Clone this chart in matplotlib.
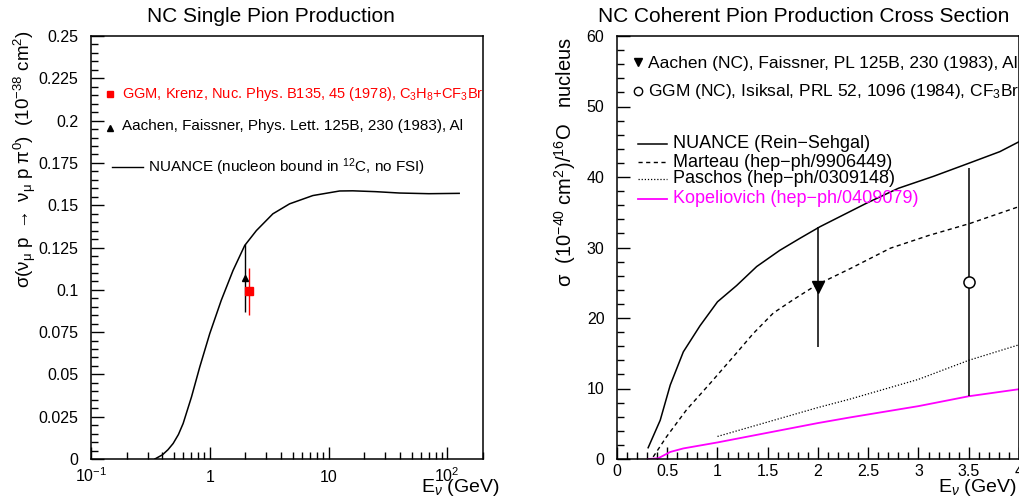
import numpy as np
import matplotlib.pyplot as plt
from matplotlib.ticker import MultipleLocator, LogLocator, NullFormatter

plt.rcParams['font.family'] = ['Liberation Sans', 'DejaVu Sans']
plt.rcParams['mathtext.fontset'] = 'custom'
plt.rcParams['mathtext.rm'] = 'Liberation Sans'
plt.rcParams['mathtext.it'] = 'Liberation Sans:italic'
plt.rcParams['mathtext.bf'] = 'Liberation Sans:bold'

# ---- left panel: NC single pion production ----
single_e = [0.345, 0.40, 0.445, 0.492, 0.545, 0.597, 0.702, 0.824, 1.0, 1.25, 1.57,
            1.97, 2.47, 3.40, 4.70, 7.38, 12.4, 16, 25, 39.5, 70, 126]
single_sigma = [0.0, 0.0025, 0.0055, 0.0092, 0.0145, 0.021, 0.0367, 0.0544, 0.0741,
                0.0938, 0.1114, 0.1262, 0.135, 0.1449, 0.1508, 0.1557, 0.1584,
                0.1585, 0.158, 0.1572, 0.1568, 0.157]

aachen_single_e = [1.97]
aachen_single_sigma = [0.107]
aachen_single_err = [0.02]

ggm_single_e = [2.14]
ggm_single_sigma = [0.099]
ggm_single_err = [0.014]

left_yticks = [0, 0.025, 0.05, 0.075, 0.1, 0.125, 0.15, 0.175, 0.2, 0.225, 0.25]
left_yticklabels = ['0', '0.025', '0.05', '0.075', '0.1', '0.125', '0.15', '0.175',
                    '0.2', '0.225', '0.25']
left_xticks = [0.1, 1, 10, 100]
left_xticklabels = ['$10^{-1}$', '1', '10', '$10^{2}$']

# ---- right panel: NC coherent pion production ----
nuance_e = [0.31, 0.43, 0.53, 0.66, 0.826, 1.0, 1.19, 1.39, 1.62, 1.82, 2.02, 2.485,
            2.8, 3.15, 3.51, 3.81, 4.0]
nuance_sigma = [1.6, 5.5, 10.5, 15.2, 18.9, 22.3, 24.6, 27.3, 29.6, 31.3, 32.95, 36.3,
                38.4, 40.1, 42.0, 43.6, 45.0]

marteau_e = [0.36, 0.495, 0.693, 0.925, 1.157, 1.356, 1.555, 1.754, 1.987, 2.32,
             2.72, 3.1, 3.51, 4.0]
marteau_sigma = [0.3, 3.2, 7.0, 10.7, 14.5, 17.8, 20.7, 22.6, 24.7, 27.0, 29.9,
                 31.7, 33.4, 35.8]

paschos_e = [1.0, 2.0, 2.32, 3.0, 3.5, 4.0]
paschos_sigma = [3.2, 7.3, 8.5, 11.3, 14.0, 16.2]

kopel_e = [0.31, 0.41, 0.53, 0.66, 1.0, 2.0, 2.32, 3.0, 3.5, 4.0]
kopel_sigma = [0.0, 0.1, 1.0, 1.5, 2.35, 5.1, 5.9, 7.5, 8.9, 9.9]

aachen_coh_e = [2.0]
aachen_coh_sigma = [24.4]
aachen_coh_err = [8.45]

ggm_coh_e = [3.5]
ggm_coh_sigma = [25.1]
ggm_coh_err = [16.2]

right_xticks = [0, 0.5, 1, 1.5, 2, 2.5, 3, 3.5, 4]
right_xticklabels = ['0', '0.5', '1', '1.5', '2', '2.5', '3', '3.5', '4']
right_yticks = [0, 10, 20, 30, 40, 50, 60]

W, H = 1020, 497
fig = plt.figure(figsize=(W / 100, H / 100), dpi=100)
ax1 = fig.add_axes([91 / W, 38 / H, 392 / W, 423 / H])
ax2 = fig.add_axes([617 / W, 38 / H, 402 / W, 423 / H])

for ax in (ax1, ax2):
    ax.tick_params(which='both', direction='in', top=False, right=False, width=1.0,
                   labelsize=11.5)
    ax.tick_params(which='major', length=9)
    ax.tick_params(which='minor', length=5)
    ax.tick_params(axis='y', pad=9)
    for s in ax.spines.values():
        s.set_linewidth(1.1)

# left panel
ax1.plot(single_e, single_sigma, color='black', lw=1.1)
ax1.errorbar(aachen_single_e, aachen_single_sigma, yerr=aachen_single_err, fmt='^',
             color='black', ms=5, elinewidth=1.0, capsize=0)
ax1.errorbar(ggm_single_e, ggm_single_sigma, yerr=ggm_single_err, fmt='s',
             color='red', ms=5.5, elinewidth=1.0, capsize=0)
ax1.set_xscale('log')
ax1.set_xlim(0.1, 200)
ax1.set_ylim(0, 0.25)
ax1.set_xticks(left_xticks)
ax1.set_xticklabels(left_xticklabels)
ax1.xaxis.set_minor_locator(LogLocator(base=10, subs=np.arange(2, 10)))
ax1.xaxis.set_minor_formatter(NullFormatter())
ax1.tick_params(axis='x', pad=16.5)
for lbl in ax1.get_xticklabels():
    lbl.set_verticalalignment('baseline')
ax1.set_yticks(left_yticks)
ax1.set_yticklabels(left_yticklabels)
ax1.yaxis.set_minor_locator(MultipleLocator(0.005))

ax1.text(0.458, 1.045, 'NC Single Pion Production', transform=ax1.transAxes,
         ha='center', va='center', fontsize=15)

# left legend
ax1.plot([0.048], [0.863], 's', color='red', ms=5, transform=ax1.transAxes)
ax1.text(0.079, 0.863, 'GGM, Krenz, Nuc. Phys. B135, 45 (1978), C$_3$H$_8$+CF$_3$Br',
         transform=ax1.transAxes, color='red', fontsize=10.5, va='center', clip_on=True)
ax1.plot([0.048], [0.782], '^', color='black', ms=4, transform=ax1.transAxes)
ax1.text(0.079, 0.787, 'Aachen, Faissner, Phys. Lett. 125B, 230 (1983), Al',
         transform=ax1.transAxes, color='black', fontsize=11, va='center')
ax1.plot([0.054, 0.133], [0.690, 0.690], color='black', lw=1.0, transform=ax1.transAxes)
ax1.text(0.145, 0.690, 'NUANCE (nucleon bound in $^{12}$C, no FSI)',
         transform=ax1.transAxes, color='black', fontsize=11, va='center')

fig.text(25 / W, 1 - 30 / H,
         r'$\mathrm{\sigma(\nu_{\mu}\ p\ \rightarrow\ \nu_{\mu}\ p\ \pi^{0})\ \ (10^{-38}\ cm^{2})}$',
         rotation=90, ha='center', va='top', fontsize=13.5)
fig.text(500 / W, 1 - 487 / H, r'E$_{\nu}$ (GeV)', ha='right', va='center', fontsize=14)

# right panel
ax2.plot(nuance_e, nuance_sigma, color='black', lw=1.1)
ax2.plot(marteau_e, marteau_sigma, color='black', lw=1.0, ls=(0, (3, 2.5)))
ax2.plot(paschos_e, paschos_sigma, color='black', lw=0.9, ls=(0, (1, 1.5)))
ax2.plot(kopel_e, kopel_sigma, color='magenta', lw=1.3)
ax2.errorbar(aachen_coh_e, aachen_coh_sigma, yerr=aachen_coh_err, fmt='v',
             color='black', ms=8, elinewidth=1.1, capsize=0)
ax2.errorbar(ggm_coh_e, ggm_coh_sigma, yerr=ggm_coh_err, fmt='o', mfc='white',
             mec='black', ecolor='black', ms=8, mew=1.1, elinewidth=1.1, capsize=0)
ax2.set_xlim(0, 4)
ax2.set_ylim(0, 60)
ax2.set_xticks(right_xticks)
ax2.set_xticklabels(right_xticklabels)
ax2.xaxis.set_minor_locator(MultipleLocator(0.1))
ax2.tick_params(axis='x', pad=3.6)
ax2.set_yticks(right_yticks)
ax2.yaxis.set_minor_locator(MultipleLocator(2))

ax2.text(-0.047, 1.045, 'NC Coherent Pion Production Cross Section',
         transform=ax2.transAxes, ha='left', va='center', fontsize=15, clip_on=False)

# right legend
ax2.plot([0.052], [0.939], 'v', color='black', ms=6, transform=ax2.transAxes)
ax2.text(0.077, 0.936, 'Aachen (NC), Faissner, PL 125B, 230 (1983), Al',
         transform=ax2.transAxes, fontsize=12.5, va='center')
ax2.plot([0.052], [0.870], 'o', mfc='white', mec='black', ms=6, mew=1.0,
         transform=ax2.transAxes)
ax2.text(0.077, 0.868, 'GGM (NC), Isiksal, PRL 52, 1096 (1984), CF$_3$Br',
         transform=ax2.transAxes, fontsize=12.5, va='center')

line_styles = [dict(color='black', lw=1.1, ls='-'),
               dict(color='black', lw=1.0, ls=(0, (3, 2.5))),
               dict(color='black', lw=0.9, ls=(0, (1, 1.5))),
               dict(color='magenta', lw=1.3, ls='-')]
line_labels = ['NUANCE (Rein\u2212Sehgal)', 'Marteau (hep\u2212ph/9906449)',
               'Paschos (hep\u2212ph/0309148)', 'Kopeliovich (hep\u2212ph/0409079)']
label_colors = ['black', 'black', 'black', 'magenta']
for y, st, lab, c in zip([0.745, 0.702, 0.662, 0.615], line_styles, line_labels,
                         label_colors):
    ax2.plot([0.052, 0.124], [y, y], transform=ax2.transAxes, **st)
    ax2.text(0.139, y, lab, transform=ax2.transAxes, fontsize=13, va='center', color=c)

fig.text(565 / W, 1 - 37 / H,
         r'$\mathrm{\sigma\ \ (10^{-40}\ cm^{2})/^{16}O\ \ \ nucleus}$',
         rotation=90, ha='center', va='top', fontsize=14.5)
fig.text(1017 / W, 1 - 487 / H, r'E$_{\nu}$ (GeV)', ha='right', va='center',
         fontsize=14)

fig.savefig('out.png', dpi=100)
